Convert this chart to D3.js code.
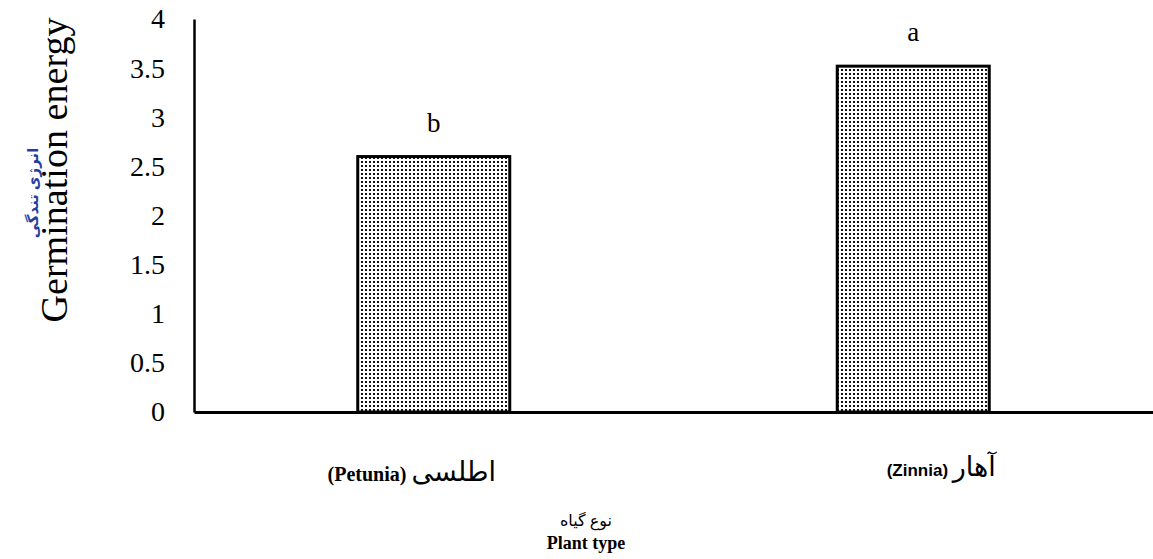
<!DOCTYPE html>
<html>
<head>
<meta charset="utf-8">
<script src="https://cdn.jsdelivr.net/npm/d3@7"></script>
<style>
  body { margin: 0; background: #fff; }
  svg { display: block; }
</style>
</head>
<body>
<svg id="chart"></svg>
<script>
// data
let categories = ['Petunia', 'Zinnia'];
let categoryFa = ['اطلسی', 'آهار'];
let values = [2.60, 3.52];
let letters = ['b', 'a'];
let yTicks = [0, 0.5, 1, 1.5, 2, 2.5, 3, 3.5, 4];

function getConfig(){
    let width = 1153;
    let height = 559;
    let margin = { top: 19, bottom: 147, left: 194, right: 0 };
    let bodyHeight = height - margin.top - margin.bottom;
    let bodyWidth = width - margin.left - margin.right;
    let container = d3.select('#chart')
        .attr('width', width)
        .attr('height', height);
    return { width, height, margin, bodyHeight, bodyWidth, container };
}

function getScales(config){
    let {margin, width, height} = config;
    let xScale = d3.scaleBand()
        .domain(categories)
        .range([margin.left, width - margin.right])
        .paddingInner(0.683)
        .paddingOuter(0.3415);
    let yScale = d3.scaleLinear()
        .domain([0, 4])
        .range([height - margin.bottom, margin.top]);
    return {xScale, yScale};
}

function drawPattern(container){
    let pat = container.append('defs').append('pattern')
        .attr('id', 'dots')
        .attr('patternUnits', 'userSpaceOnUse')
        .attr('width', 4)
        .attr('height', 4);
    pat.append('rect').attr('width', 4).attr('height', 4).attr('fill', '#fff');
    pat.append('rect').attr('x', 1).attr('y', 1)
        .attr('width', 2).attr('height', 2).attr('fill', '#111');
}

function drawBars(scales, config){
    let {container} = config;
    let {xScale, yScale} = scales;
    container.append('g').selectAll('rect')
        .data(categories)
        .enter().append('rect')
        .attr('x', d => xScale(d))
        .attr('width', xScale.bandwidth())
        .attr('y', (d, i) => yScale(values[i]))
        .attr('height', (d, i) => yScale(0) - yScale(values[i]))
        .attr('fill', 'url(#dots)')
        .attr('stroke', '#000')
        .attr('stroke-width', 3);

    // significance letters
    container.append('g').selectAll('text')
        .data(categories)
        .enter().append('text')
        .attr('x', d => xScale(d) + xScale.bandwidth() / 2)
        .attr('y', (d, i) => yScale(values[i]) - 25)
        .attr('text-anchor', 'middle')
        .style('font-family', '"Liberation Serif", serif')
        .style('font-size', '27px')
        .text((d, i) => letters[i]);
}

function drawAxes(scales, config){
    let {xScale, yScale} = scales;
    let {container, margin, height} = config;

    let axisY = d3.axisLeft(yScale)
        .tickValues(yTicks)
        .tickFormat(d3.format('~g'))
        .tickSize(0)
        .tickPadding(29);
    let gy = container.append('g')
        .attr('transform', `translate(${margin.left},0)`)
        .call(axisY);
    gy.select('.domain').attr('stroke', '#000').attr('stroke-width', 2.5);
    gy.selectAll('text')
        .style('font-family', '"Liberation Serif", serif')
        .style('font-size', '28px')
        .attr('fill', '#000');

    let axisX = d3.axisBottom(xScale).tickSize(0).tickFormat('');
    let gx = container.append('g')
        .attr('transform', `translate(0,${height - margin.bottom})`)
        .call(axisX);
    gx.select('.domain').attr('stroke', '#000').attr('stroke-width', 3);

    // category labels: latin name + persian name
    let labelShift = [-22, 28];
    let baseY = [481, 476];
    let latinFont = ['Liberation Serif', 'Liberation Sans'];
    let latinSize = [20, 17];
    let lab = container.append('g').selectAll('text')
        .data(categories)
        .enter().append('text')
        .attr('x', (d, i) => xScale(d) + xScale.bandwidth() / 2 + labelShift[i])
        .attr('y', (d, i) => baseY[i])
        .attr('text-anchor', 'middle');
    lab.each(function(d, i){
        let t = d3.select(this);
        t.append('tspan')
            .attr('font-family', latinFont[i])
            .attr('font-size', latinSize[i])
            .attr('font-weight', 'bold')
            .text('(' + d + ') ');
        t.append('tspan')
            .attr('font-family', 'Noto Sans, DejaVu Sans, sans-serif')
            .attr('font-size', 27)
            .attr('font-weight', 500)
            .text(categoryFa[i]);
    });

    // x axis title
    container.append('text')
        .attr('x', 586).attr('y', 526)
        .attr('text-anchor', 'middle')
        .style('font-family', '"Noto Sans", "DejaVu Sans", sans-serif')
        .style('font-size', '16px')
        .text('نوع گیاه');
    container.append('text')
        .attr('x', 586).attr('y', 549)
        .attr('text-anchor', 'middle')
        .style('font-family', '"Liberation Serif", serif')
        .style('font-size', '18px')
        .style('font-weight', 'bold')
        .text('Plant type');

    // y axis title
    container.append('text')
        .attr('transform', 'translate(67,170) rotate(-90)')
        .attr('text-anchor', 'middle')
        .attr('textLength', 305)
        .attr('lengthAdjust', 'spacingAndGlyphs')
        .style('font-family', '"Liberation Serif", serif')
        .style('font-size', '37px')
        .text('Germination energy');
    container.append('text')
        .attr('transform', 'translate(38,193) rotate(-90)')
        .attr('text-anchor', 'middle')
        .attr('fill', '#1f3fa0')
        .style('font-family', '"Noto Sans", "DejaVu Sans", sans-serif')
        .style('font-size', '15px')
        .style('font-weight', '600')
        .text('انرژی تندگی');
}

function drawChart(){
    let config = getConfig();
    let scales = getScales(config);
    drawPattern(config.container);
    drawBars(scales, config);
    drawAxes(scales, config);
}

drawChart();
</script>
</body>
</html>
